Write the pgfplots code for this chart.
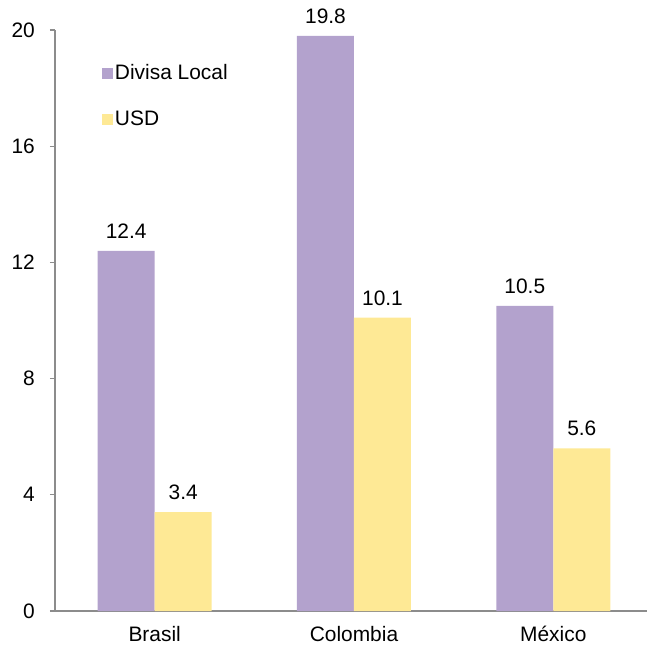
\documentclass[border=0pt]{standalone}
\usepackage{pgfplots}
\pgfplotsset{compat=1.18}
\usepackage{fontspec}
\setmainfont{Liberation Sans}

\definecolor{lila}{HTML}{B3A2CD}
\definecolor{amarillo}{HTML}{FEE995}
\definecolor{eje}{HTML}{8C8C8C}

\begin{document}
\begin{tikzpicture}
\fontsize{21}{25}\selectfont
\path[use as bounding box] (-55bp,-35bp) rectangle (592bp,611bp);
\begin{axis}[
  at={(0,0)}, anchor=south west,
  scale only axis,
  width=592bp, height=581bp,
  ybar=0pt, bar width=57bp,
  xmin=-0.5, xmax=2.47,
  ymin=0, ymax=20,
  xtick={0,1,2},
  xticklabels={Brasil,Colombia,México},
  ytick={0,4,8,12,16,20},
  axis lines*=left,
  axis line style={eje, line width=1.2bp, -},
  x axis line style={draw=eje},
  major x tick style={draw=none},
  major y tick style={eje, line width=1.2bp},
  tick align=outside,
  major tick length=5bp,
  yticklabel style={xshift=-8bp},
  xticklabel style={yshift=-3bp},
  /pgf/number format/assume math mode=true,
  ticklabel style={font=\fontsize{21}{25}\selectfont},
  nodes near coords,
  nodes near coords style={font=\fontsize{21}{25}\selectfont, anchor=south, yshift=5bp,
    /pgf/number format/fixed, /pgf/number format/precision=1, /pgf/number format/fixed zerofill},
  legend style={draw=none, fill=none, at={(0.074,0.948)}, anchor=north west,
    font=\fontsize{21}{25}\selectfont, row sep=24bp,
    /tikz/every even column/.append style={column sep=0bp}},
  legend cell align=left,
  legend image code/.code={\fill[#1] (0bp,-5.5bp) rectangle (11bp,5.5bp);},
  clip=false,
]
\addplot[fill=lila, draw=none] coordinates {(0,12.4) (1,19.8) (2,10.5)};
\addplot[fill=amarillo, draw=none] coordinates {(0,3.4) (1,10.1) (2,5.6)};
\legend{Divisa Local, USD}
\end{axis}
\end{tikzpicture}
\end{document}
